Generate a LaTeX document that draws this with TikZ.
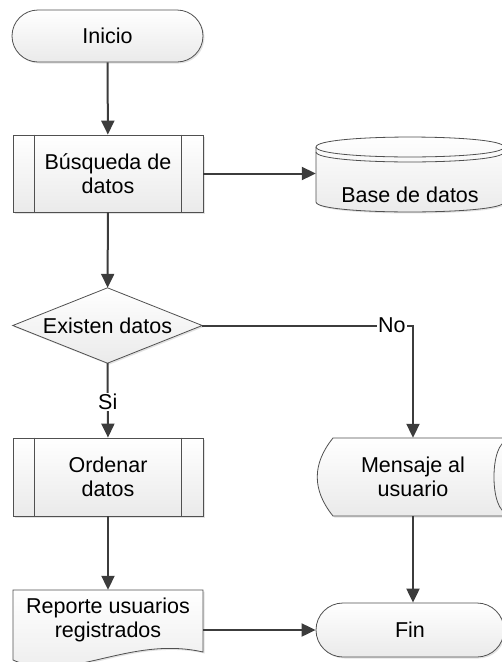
\documentclass[tikz,border=0pt]{standalone}
\usepackage{fontspec}
\setmainfont{Liberation Sans}
\usetikzlibrary{arrows.meta,shapes.misc,shadows,backgrounds}

\definecolor{outline}{HTML}{505050}
\definecolor{flowline}{HTML}{3C3C3C}
\definecolor{shapefill}{HTML}{EAEAEA}

\tikzset{
  shapestyle/.style={draw=outline, line width=0.8pt, top color=white, bottom color=shapefill,
    drop shadow={shadow xshift=1.5pt, shadow yshift=-1.5pt, opacity=0.25, fill=black!45}},
  txt/.style={font=\fontsize{21.5}{24}\selectfont, align=center, text=black, inner sep=0pt},
  procbox/.style={shapestyle, txt, rectangle, minimum width=190pt, minimum height=77pt},
  terminal/.style={shapestyle, txt, rounded rectangle, minimum height=52pt},
  area/.style={txt, rectangle},
  flow/.style={draw=flowline, line width=2pt, -{Triangle[length=14pt,width=13pt]}},
  tag/.style={txt, fill=white, inner sep=1pt},
  rim/.style={draw=outline, line width=0.8pt},
}

\begin{document}
\begin{tikzpicture}[x=1pt, y=-1pt]
  \useasboundingbox (0,0) rectangle (502,662);
  \clip (0,0) rectangle (502,662);

  % --- nodes -------------------------------------------------------------
  \node[terminal, minimum width=191pt] (start) at (107.5,36) {Inicio};
  \node[procbox] (search) at (108,173.5) {Búsqueda de\\datos};
  \node[area, minimum width=188pt, minimum height=75pt] (db) at (410,174.5) {};
  \node[area, minimum width=189pt, minimum height=75pt] (check) at (107.5,325.5) {};
  \node[procbox, minimum height=78pt] (sort) at (108,477) {Ordenar\\datos};
  \node[area, minimum width=194pt, minimum height=78pt] (msg) at (413,477) {};
  \node[area, minimum width=190pt, minimum height=80pt] (report) at (108,630) {};
  \node[terminal, minimum width=188pt, minimum height=54pt] (stop) at (410,630) {Fin};

  % inner bars of the predefined-process boxes
  \foreach \n in {search, sort} {
    \draw[rim] ([xshift=22pt]\n.north west) -- ([xshift=22pt]\n.south west);
    \draw[rim] ([xshift=-22pt]\n.north east) -- ([xshift=-22pt]\n.south east);
  }

  % --- outlines of the drawn symbols, kept behind the texts ----------------
  \begin{scope}[on background layer]
    % decision
    \path[shapestyle] (check.north) -- (check.east) -- (check.south) -- (check.west) -- cycle;
    % database cylinder
    \begin{scope}[shift={(db.center)}]
      \path[shapestyle] (-94,-27.5) -- (-94,27.5)
        .. controls (-94,40.8) and (94,40.8) .. (94,27.5) -- (94,-27.5)
        .. controls (94,-40.8) and (-94,-40.8) .. (-94,-27.5) -- cycle;
      \draw[rim] (-94,-27.5) .. controls (-94,-14.2) and (94,-14.2) .. (94,-27.5);
      \draw[rim] (-94,-22.5) .. controls (-94,-9.2) and (94,-9.2) .. (94,-22.5);
    \end{scope}
    % display symbol
    \begin{scope}[shift={(msg.center)}]
      \path[shapestyle] (-80,-39) .. controls (-101,-13) and (-101,13) .. (-80,39)
        -- (105,39) -- (105,-39) -- cycle;
      \draw[rim] (95,-36) .. controls (76.3,-36) and (76.3,36) .. (95,36);
    \end{scope}
    % document symbol
    \begin{scope}[shift={(report.center)}]
      \path[shapestyle] (-95,-40) -- (95,-40) -- (95,22)
        .. controls (20,5) and (-40,55) .. (-95,30) -- cycle;
    \end{scope}
  \end{scope}

  % --- texts of the drawn symbols -----------------------------------------
  \node[txt] (dbtext) at ([yshift=-20pt]db.center) {Base de datos};
  \node[txt] (checktext) at (check.center) {Existen datos};
  \node[txt] (msgtext) at (msg.center) {Mensaje al\\usuario};
  \node[txt] (reporttext) at ([yshift=10pt]report.center) {Reporte usuarios\\registrados};

  % --- connectors ---------------------------------------------------------
  \draw[flow] (start) -- (search);
  \draw[flow] (search.east) -- (search.east -| db.west);
  \draw[flow] (search) -- (check);
  \draw[flow] (check.east) -| node[tag, pos=0.45] (no) {No} (msg.north);
  \draw[flow] (check.south) -- node[tag, pos=0.52] (yes) {Si} (sort.north);
  \draw[flow] (sort) -- (report);
  \draw[flow] (msg.south) -- (msg.south |- stop.north);
  \draw[flow] (report.east) -- (stop.west);
\end{tikzpicture}
\end{document}
